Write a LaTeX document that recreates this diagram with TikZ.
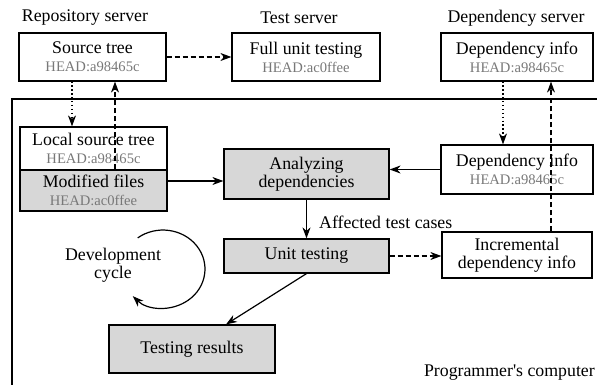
\documentclass[tikz,border=0pt]{standalone}
\usepackage{fontspec}
\setmainfont{Liberation Serif}[Ligatures=TeXOff]
\usetikzlibrary{arrows.meta}
\definecolor{boxgray}{RGB}{215,215,215}
\definecolor{headgray}{RGB}{120,120,120}
\newcommand\mainsize{\fontsize{17.8}{18}\selectfont}
\newcommand\hd{\fontsize{14.6}{17}\selectfont\color{headgray}}
\tikzset{
  box/.style={draw, line width=1.2pt, inner sep=0pt, align=center, font=\mainsize},
  gbox/.style={box, fill=boxgray},
  conn/.style={line width=1.2pt, -{Stealth[length=11pt,width=8pt,inset=3.5pt]}},
  dashconn/.style={conn, dash pattern=on 5pt off 3pt},
  dotconn/.style={conn, dash pattern=on 1.3pt off 2.6pt},
  lbl/.style={font=\mainsize, inner sep=0pt},
  frame/.style={line width=1.2pt},
}
\begin{document}
\begin{tikzpicture}[x=1pt,y=-1pt]
\useasboundingbox (0,0) rectangle (597,385);
% computer frame
\draw[frame] (12,385) -- (12,99) -- (597,99);
% server labels
\node[lbl] (repo) at (85,18) {Repository server};
\node[lbl] (testsrv) at (299,18) {Test server};
\node[lbl] (depsrvl) at (516,18) {Dependency server};
% boxes
\node[box, minimum width=147pt, minimum height=48pt] (src) at (92.5,57) {Source tree\\\hd HEAD:a98465c};
\node[box, minimum width=148pt, minimum height=48pt] (full) at (306,57) {Full unit testing\\\hd HEAD:ac0ffee};
\node[box, minimum width=152pt, minimum height=48pt] (depsrv) at (517,57) {Dependency info\\\hd HEAD:a98465c};
\node[box, minimum width=147pt, minimum height=43pt] (local) at (93.5,148.5) {Local source tree\\\hd HEAD:a98465c};
\node[gbox, minimum width=147pt, minimum height=41pt] (mod) at (93.5,190.5) {Modified files\\\hd HEAD:ac0ffee};
\node[gbox, minimum width=165pt, minimum height=50pt] (ana) at (306.5,174) {Analyzing\\dependencies};
\node[box, minimum width=152pt, minimum height=49pt] (deploc) at (517,169.5) {Dependency info\\\hd HEAD:a98465c};
\node[gbox, minimum width=165pt, minimum height=34pt] (ut) at (306.5,256) {Unit testing};
\node[box, minimum width=150pt, minimum height=46pt] (inc) at (517,255) {Incremental\\dependency info};
\node[gbox, minimum width=166pt, minimum height=48pt] (tr) at (192,349) {Testing results};
% other labels
\node[lbl, anchor=west] (aff) at (319,222) {Affected test cases};
\node[lbl, align=center] (dev) at (113,265) {Development\\cycle};
\node[lbl, anchor=east] (pc) at (595,373) {Programmer's computer};
% helper coordinates
\coordinate (xa) at (72,0);
\coordinate (xb) at (115,0);
\coordinate (xc) at (503,0);
\coordinate (xd) at (551,0);
\coordinate (xe) at (226,0);
\coordinate (ya) at (0,181);
\coordinate (cs) at (137.7,237.9);
% connectors
\draw[dashconn] (src.east) -- (full.west);
\draw[dotconn] (src.south -| xa) -- (local.north -| xa);
\draw[dashconn] (mod.north -| xb) -- (src.south -| xb);
\draw[conn] (mod.east |- ya) -- (ana.west |- ya);
\draw[conn] (deploc.west) -- (deploc.west -| ana.east);
\draw[dotconn] (depsrv.south -| xc) -- (deploc.north -| xc);
\draw[dashconn] (inc.north -| xd) -- (depsrv.south -| xd);
\draw[conn] (ana.south) -- (ut.north);
\draw[dashconn] (ut.east) -- (ut.east -| inc.west);
\draw[conn] (ut.south) -- (tr.north -| xe);
\draw[conn] (cs) arc[start angle=127, end angle=-136, x radius=42pt, y radius=39pt];
\end{tikzpicture}
\end{document}
